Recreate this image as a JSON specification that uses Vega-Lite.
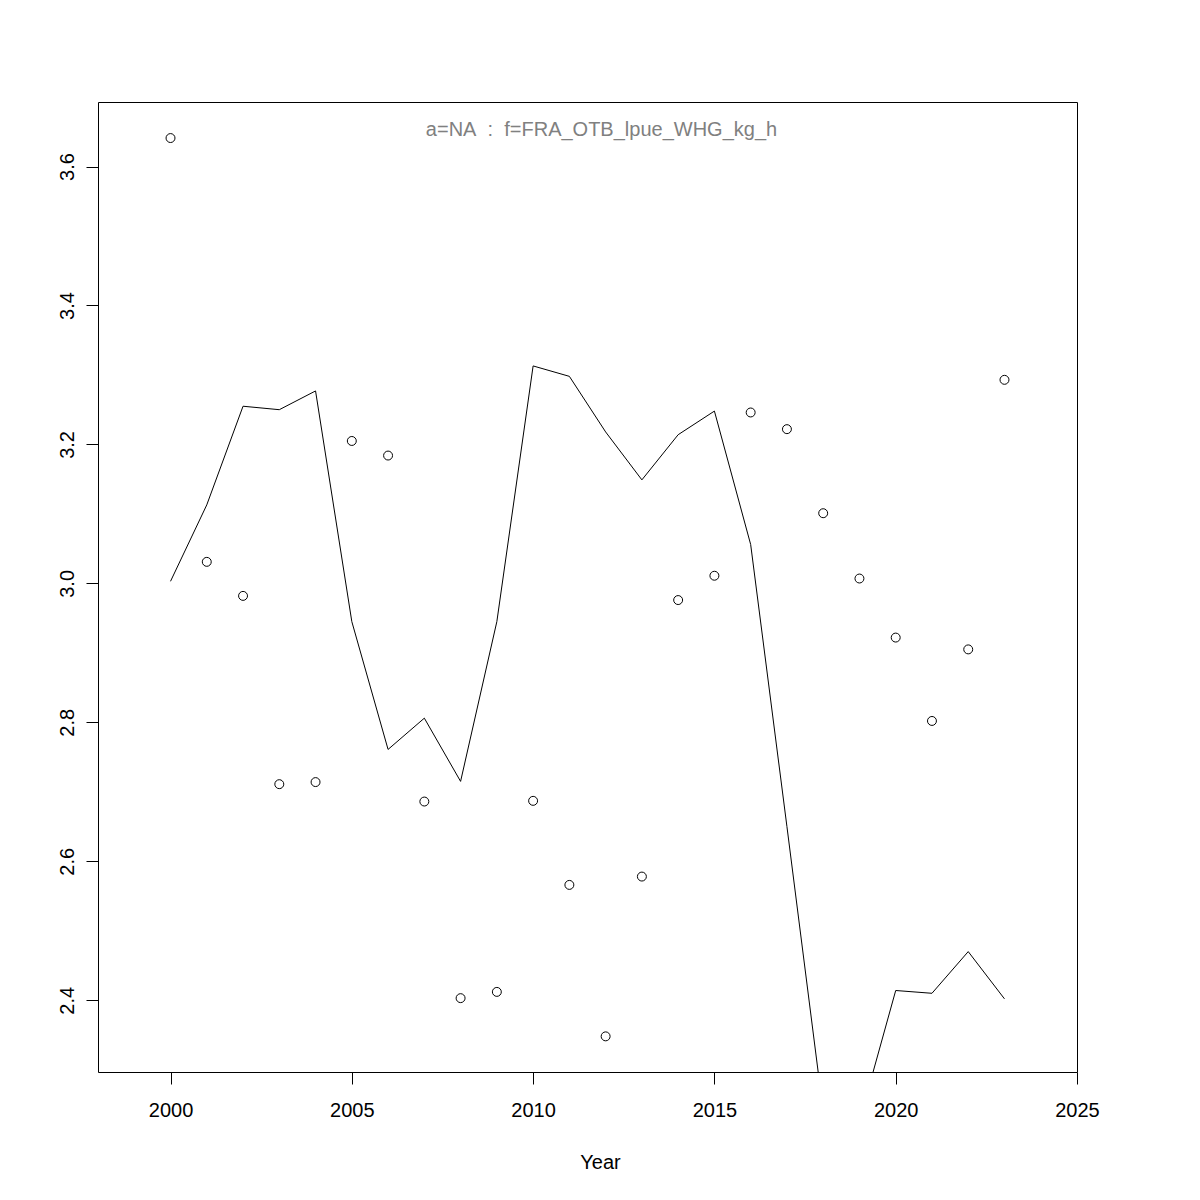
{
  "$schema": "https://vega.github.io/schema/vega-lite/v6.json",
  "width": 979,
  "height": 970,
  "autosize": {"type": "none"},
  "padding": {"left": 98, "top": 102, "right": 123, "bottom": 128},
  "background": "white",
  "title": {
    "text": "a=NA\u00a0 :\u00a0 f=FRA_OTB_lpue_WHG_kg_h",
    "anchor": "middle",
    "frame": "group",
    "dx": 14,
    "offset": -54,
    "baseline": "alphabetic",
    "fontSize": 20,
    "fontWeight": "normal",
    "color": "#808080"
  },
  "data": {
    "values": [
      {"year": 2000, "obs": 3.641, "fit": 3.003},
      {"year": 2001, "obs": 3.031, "fit": 3.113},
      {"year": 2002, "obs": 2.982, "fit": 3.255},
      {"year": 2003, "obs": 2.711, "fit": 3.250},
      {"year": 2004, "obs": 2.714, "fit": 3.277},
      {"year": 2005, "obs": 3.205, "fit": 2.945},
      {"year": 2006, "obs": 3.184, "fit": 2.761},
      {"year": 2007, "obs": 2.686, "fit": 2.806},
      {"year": 2008, "obs": 2.403, "fit": 2.715},
      {"year": 2009, "obs": 2.412, "fit": 2.945},
      {"year": 2010, "obs": 2.687, "fit": 3.313},
      {"year": 2011, "obs": 2.566, "fit": 3.298},
      {"year": 2012, "obs": 2.348, "fit": 3.218},
      {"year": 2013, "obs": 2.578, "fit": 3.149},
      {"year": 2014, "obs": 2.976, "fit": 3.214},
      {"year": 2015, "obs": 3.011, "fit": 3.248},
      {"year": 2016, "obs": 3.246, "fit": 3.056},
      {"year": 2017, "obs": 3.222, "fit": 2.65},
      {"year": 2018, "obs": 3.101, "fit": 2.24},
      {"year": 2019, "obs": 3.007, "fit": 2.226},
      {"year": 2020, "obs": 2.922, "fit": 2.414},
      {"year": 2021, "obs": 2.802, "fit": 2.410},
      {"year": 2022, "obs": 2.905, "fit": 2.470},
      {"year": 2023, "obs": 3.293, "fit": 2.402}
    ]
  },
  "encoding": {
    "x": {
      "field": "year",
      "type": "quantitative",
      "scale": {"domain": [1998, 2025], "nice": false, "zero": false},
      "axis": {
        "values": [2000, 2005, 2010, 2015, 2020, 2025],
        "format": "d",
        "title": "Year",
        "titleX": 502,
        "labelPadding": 16,
        "titlePadding": 32,
        "labelFlush": false,
        "labelOverlap": false
      }
    }
  },
  "layer": [
    {
      "mark": {"type": "line", "color": "black", "strokeWidth": 1, "clip": true},
      "encoding": {
        "y": {
          "field": "fit",
          "type": "quantitative",
          "scale": {"domain": [2.2967, 3.6929], "nice": false, "zero": false},
          "axis": {
            "values": [2.4, 2.6, 2.8, 3.0, 3.2, 3.4, 3.6],
            "format": ".1f",
            "title": null,
            "labelAngle": -90,
            "labelAlign": "center",
            "labelBaseline": "alphabetic",
            "labelPadding": 13,
            "labelFlush": false,
            "labelOverlap": false
          }
        }
      }
    },
    {
      "mark": {"type": "point", "shape": "circle", "filled": false, "stroke": "black", "strokeWidth": 1, "size": 80, "opacity": 1},
      "encoding": {
        "y": {
          "field": "obs",
          "type": "quantitative",
          "scale": {"domain": [2.2967, 3.6929], "nice": false, "zero": false}
        }
      }
    }
  ],
  "config": {
    "font": "Liberation Sans",
    "view": {"stroke": "black", "strokeWidth": 1},
    "axis": {
      "grid": false,
      "domain": false,
      "tickColor": "black",
      "tickSize": 12,
      "tickWidth": 1,
      "labelFontSize": 20,
      "labelColor": "black",
      "titleFontSize": 20,
      "titleFontWeight": "normal",
      "titleColor": "black"
    }
  }
}
